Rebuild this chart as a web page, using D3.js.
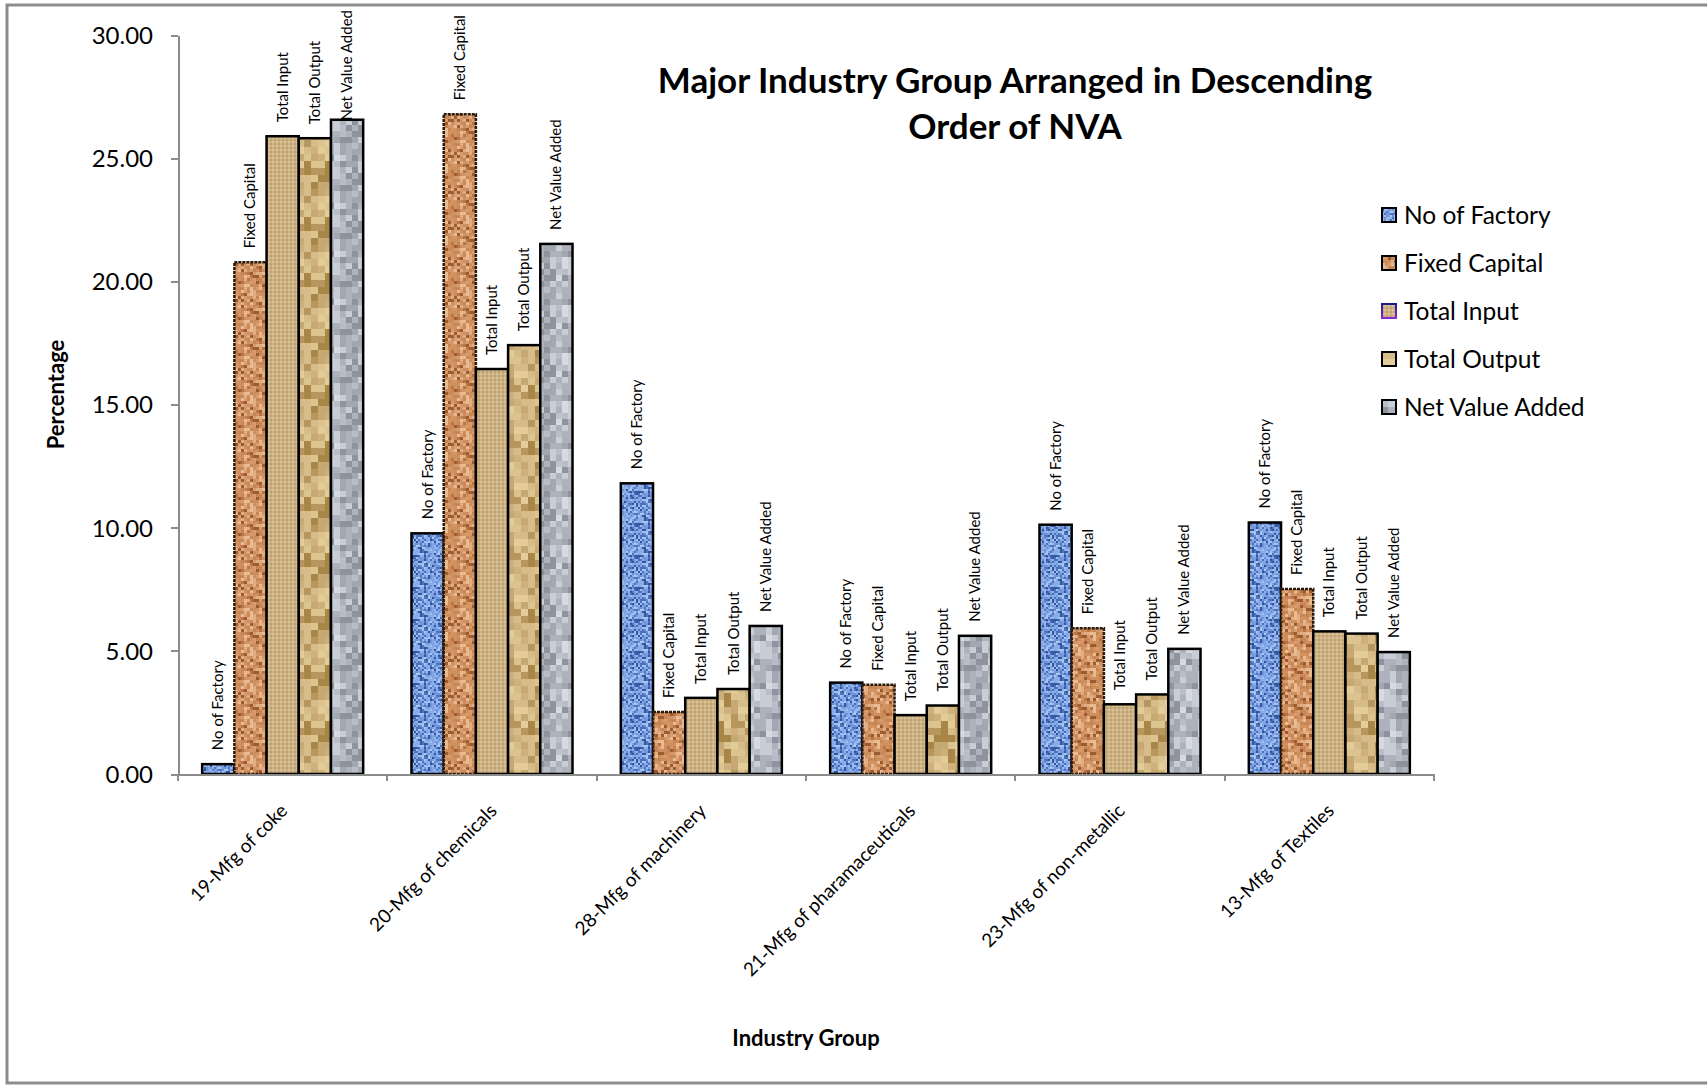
<!DOCTYPE html>
<html>
<head>
<title>Major Industry Group Arranged in Descending Order of NVA - D3.js</title>
<script src="https://d3js.org/d3.v7.min.js"></script>
<style>
body { margin: 0; background: #fff; }
text { font-family: Lato, "Open Sans", sans-serif; fill: #000; }
.axis path, .axis line { stroke: #8c8c8c; stroke-width: 2px; shape-rendering: crispEdges; }
.axis text { font-size: 24px; }
.bar-label { font-size: 15px; }
</style>
</head>
<body>
<svg width="1707" height="1087"></svg>

<script>
const categories = [
  "19-Mfg of coke",
  "20-Mfg of chemicals",
  "28-Mfg of machinery",
  "21-Mfg of pharamaceuticals",
  "23-Mfg of non-metallic",
  "13-Mfg of Textiles"
];
const seriesNames = ["No of Factory", "Fixed Capital", "Total Input", "Total Output", "Net Value Added"];

const noOfFactory   = [0.40, 9.77, 11.80, 3.71, 10.12, 10.21];
const fixedCapital  = [20.77, 26.78, 2.52, 3.62, 5.92, 7.51];
const totalInput    = [25.89, 16.44, 3.09, 2.39, 2.83, 5.79];
const totalOutput   = [25.81, 17.41, 3.45, 2.78, 3.23, 5.70];
const netValueAdded = [26.56, 21.52, 6.01, 5.61, 5.08, 4.95];

const yTicks = [0, 5, 10, 15, 20, 25, 30];

const seriesValues = [noOfFactory, fixedCapital, totalInput, totalOutput, netValueAdded];

const svg = d3.select("svg");
const margin = { top: 35, left: 178, right: 273, bottom: 313 };
const width = 1707 - margin.left - margin.right;
const height = 1087 - margin.top - margin.bottom;

// ---- textures ----
const defs = svg.append("defs");

function hash(i, j, s) {
  let h = (i * 374761393 + j * 668265263 + s * 1442695041) | 0;
  h = (h ^ (h >>> 13)) * 1274126177 | 0;
  h = h ^ (h >>> 16);
  return ((h >>> 0) % 1000) / 1000;
}

function pixelPattern(id, cell, n, colors, seed) {
  const p = defs.append("pattern")
    .attr("id", id)
    .attr("patternUnits", "userSpaceOnUse")
    .attr("width", cell * n)
    .attr("height", cell * n);
  for (let i = 0; i < n; i++) {
    for (let j = 0; j < n; j++) {
      const c = colors[Math.floor(hash(i, j, seed) * colors.length)];
      p.append("rect")
        .attr("x", i * cell).attr("y", j * cell)
        .attr("width", cell).attr("height", cell)
        .attr("fill", c);
    }
  }
}

pixelPattern("tex-factory", 2, 16,
  ["#8db0ec", "#7fa3e4", "#9dbcf0", "#86a9e8", "#6f93d8", "#4d72bd", "#34579c", "#a9c6f3"], 1);
pixelPattern("tex-capital", 3, 12,
  ["#d99c6e", "#cf8e5e", "#e2ad82", "#d49565", "#b87444", "#9b5c31", "#e8bb92", "#c98655"], 2);
pixelPattern("tex-output", 7, 8,
  ["#d6bc88", "#c6a872", "#b8975e", "#e4cc98", "#cdb07c", "#a88648", "#dcc490"], 3);
pixelPattern("tex-nva", 6, 8,
  ["#b9bdc7", "#c9cdd5", "#a3a7b1", "#d7dae0", "#8f939d", "#bfc3cb", "#aeb2bc"], 4);

// fine weave for total input
const weave = defs.append("pattern")
  .attr("id", "tex-input")
  .attr("patternUnits", "userSpaceOnUse")
  .attr("width", 4).attr("height", 4);
weave.append("rect").attr("width", 4).attr("height", 4).attr("fill", "#cdb283");
weave.append("rect").attr("width", 2).attr("height", 2).attr("fill", "#bfa273");
weave.append("rect").attr("x", 2).attr("y", 2).attr("width", 2).attr("height", 2).attr("fill", "#d9c096");

const grad = defs.append("linearGradient")
  .attr("id", "input-edge")
  .attr("x1", 0).attr("y1", 0).attr("x2", 0).attr("y2", 1);
grad.append("stop").attr("offset", "0%").attr("stop-color", "#1a1a90");
grad.append("stop").attr("offset", "100%").attr("stop-color", "#8a2ad0");

const fills = ["url(#tex-factory)", "url(#tex-capital)", "url(#tex-input)", "url(#tex-output)", "url(#tex-nva)"];

// ---- frame ----
svg.append("rect")
  .attr("x", 7).attr("y", 5)
  .attr("width", 1720).attr("height", 1078)
  .attr("fill", "none")
  .attr("stroke", "#8c8c8c")
  .attr("stroke-width", 3);

const g = svg.append("g").attr("transform", `translate(${margin.left},${margin.top})`);

const x0 = d3.scaleBand().domain(categories).range([0, width]);
const x1 = d3.scaleBand().domain(seriesNames).range([0, x0.bandwidth()]).paddingOuter(0.75);
const y = d3.scaleLinear().domain([0, 30]).range([height, 0]);

// y axis
const yAxis = g.append("g").attr("class", "axis")
  .call(d3.axisLeft(y).tickValues(yTicks).tickFormat(d3.format(".2f")).tickSize(7).tickPadding(18).tickSizeOuter(0));
yAxis.selectAll("text").attr("dy", "0.35em");

// bars
seriesNames.forEach((s, si) => {
  const vals = seriesValues[si];
  const grp = g.append("g");
  grp.selectAll("rect")
    .data(categories)
    .join("rect")
    .attr("x", (c) => x0(c) + x1(s))
    .attr("y", (c, i) => y(vals[i]))
    .attr("width", x1.bandwidth())
    .attr("height", (c, i) => y(0) - y(vals[i]))
    .attr("fill", fills[si])
    .attr("stroke", si === 1 ? "#2a1a0a" : "#000")
    .attr("stroke-width", 2.5)
    .attr("stroke-dasharray", si === 1 ? "3,1" : null);
  if (si === 2) {
    grp.selectAll("line")
      .data(categories)
      .join("line")
      .attr("x1", (c) => x0(c) + x1(s))
      .attr("x2", (c) => x0(c) + x1(s))
      .attr("y1", (c, i) => y(vals[i]) + 2)
      .attr("y2", y(0))
      .attr("stroke", "url(#input-edge)")
      .attr("stroke-width", 2.5);
  }
});

// bar labels (kept inside the frame when the bar is tall)
seriesNames.forEach((s, si) => {
  const vals = seriesValues[si];
  g.append("g").selectAll("text")
    .data(categories)
    .join("text")
    .attr("class", "bar-label")
    .text(s)
    .attr("transform", function (c, i) {
      const len = this.getComputedTextLength();
      const base = Math.max(y(vals[i]) - 14, len - margin.top + 10);
      return `translate(${x0(c) + x1(s) + x1.bandwidth() / 2 + 5},${base}) rotate(-90)`;
    });
});

// x axis
const xAxis = g.append("g").attr("class", "axis")
  .attr("transform", `translate(0,${height})`)
  .call(d3.axisBottom(x0).tickSize(0).tickSizeOuter(0).tickFormat(""));
xAxis.selectAll(".bd")
  .data(d3.range(categories.length + 1))
  .join("line")
  .attr("class", "bd")
  .attr("x1", (i) => i * x0.step()).attr("x2", (i) => i * x0.step())
  .attr("y1", 0).attr("y2", 7);

g.append("g").selectAll("text")
  .data(categories)
  .join("text")
  .attr("transform", (c) => `translate(${x0(c) + x0.bandwidth() / 2 + 6},${height + 38}) rotate(-45)`)
  .attr("text-anchor", "end")
  .attr("font-size", 19)
  .text((c) => c);

// axis titles
svg.append("text")
  .attr("transform", `translate(64,${margin.top + height / 2 - 10}) rotate(-90)`)
  .attr("text-anchor", "middle")
  .attr("font-size", 22)
  .attr("font-weight", "bold")
  .text("Percentage");

svg.append("text")
  .attr("x", 806).attr("y", 1046)
  .attr("text-anchor", "middle")
  .attr("font-size", 22)
  .attr("font-weight", "bold")
  .text("Industry Group");

// title
const title = svg.append("text")
  .attr("text-anchor", "middle")
  .attr("font-size", 35)
  .attr("font-weight", "bold");
title.append("tspan").attr("x", 1015).attr("y", 93).text("Major Industry Group Arranged in Descending");
title.append("tspan").attr("x", 1015).attr("y", 139).text("Order of NVA");

// legend
const legend = svg.append("g").attr("transform", "translate(1382,215)");
const item = legend.selectAll("g")
  .data(seriesNames)
  .join("g")
  .attr("transform", (d, i) => `translate(0,${i * 48})`);
item.append("rect")
  .attr("x", 0).attr("y", -7)
  .attr("width", 14).attr("height", 14)
  .attr("fill", (d, i) => fills[i])
  .attr("stroke", (d, i) => (i === 2 ? "url(#input-edge)" : "#000"))
  .attr("stroke-width", 2);
item.append("text")
  .attr("x", 22).attr("dy", "0.35em")
  .attr("font-size", 24.5)
  .text((d) => d);
</script>
</body>
</html>
